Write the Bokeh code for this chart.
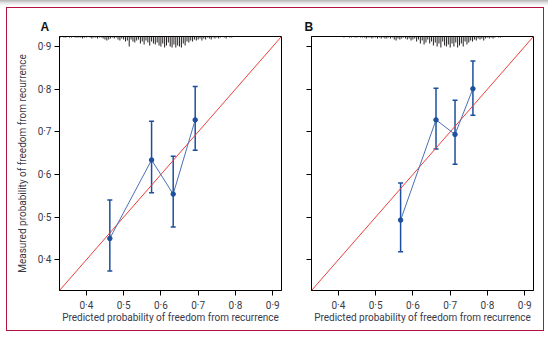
from bokeh.plotting import figure
from bokeh.models import Range1d, FixedTicker, Whisker, ColumnDataSource, TeeHead, Row, Column
from bokeh.embed import file_html
from bokeh.resources import INLINE

# ---------------- data ----------------
tick_values = [0.4, 0.5, 0.6, 0.7, 0.8, 0.9]
tick_labels = ["0·4", "0·5", "0·6", "0·7", "0·8", "0·9"]

a_pred = [0.463, 0.575, 0.633, 0.692]
a_obs = [0.450, 0.634, 0.554, 0.728]
a_lower = [0.374, 0.557, 0.477, 0.657]
a_upper = [0.540, 0.725, 0.643, 0.806]

b_pred = [0.567, 0.662, 0.713, 0.761]
b_obs = [0.493, 0.728, 0.694, 0.801]
b_lower = [0.419, 0.660, 0.624, 0.739]
b_upper = [0.580, 0.802, 0.774, 0.866]

rug_bin = 0.005
a_rug_start = 0.330
a_rug_counts = [1, 0, 1, 1, 0, 1, 1, 0, 1, 1,
                1, 1, 2, 1, 1, 0, 1, 2, 1, 1, 2, 1, 1, 2,
                3, 4, 3, 2, 1, 2, 1, 3, 4, 2,
                3, 5, 4, 10, 3, 5, 6, 4, 3, 7,
                5, 8, 4, 6, 9, 5, 7, 8, 6, 9,
                10, 7, 11, 9, 6, 10, 11, 8, 11, 9,
                10, 11, 7, 9, 5, 6, 4, 5, 3, 4,
                3, 2, 4, 2, 3, 1, 2, 3, 1, 2,
                1, 2, 1, 0, 1, 2, 0, 1, 1]
b_rug_start = 0.415
b_rug_counts = [1, 0, 0, 1, 1, 0, 1, 1, 0,
                1, 1, 1, 2, 1, 1, 2, 1, 1, 2,
                1, 2, 1, 2, 2, 1, 2, 1, 3, 4,
                2, 3, 2, 1, 2, 3, 2, 4, 3, 2,
                5, 3, 7, 4, 8, 6, 3, 7, 5, 9,
                6, 10, 7, 11, 5, 9, 10, 8, 11, 7,
                10, 6, 11, 9, 7, 10, 5, 8, 6, 4,
                5, 3, 4, 2, 3, 2, 4, 2, 1, 2,
                1, 2, 1, 0, 1, 1]

x_label = "Predicted probability of freedom from recurrence"
y_label = "Measured probability of freedom from recurrence"

# ---------------- style ----------------
FONT = "Roboto"
TXT = "#3a3a48"
BLUE = "#1d4f9c"
LINE_BLUE = "#4a70b4"
RED = "#e8403c"
RANGE = (0.328, 0.9235)


def make_panel(letter, pred, obs, lo, hi, rug_start, rug_counts, show_ylab, width, bl, br, title_off):
    p = figure(width=width, height=322, output_backend="svg", toolbar_location=None,
               x_range=Range1d(*RANGE), y_range=Range1d(*RANGE),
               min_border_left=bl, min_border_right=br, min_border_top=28, min_border_bottom=40)
    p.frame_width = 222
    p.frame_height = 254
    p.xgrid.visible = False
    p.ygrid.visible = False
    p.outline_line_color = "black"
    p.outline_line_width = 1
    p.background_fill_color = "white"
    p.border_fill_color = "white"
    labels = dict(zip(tick_values, tick_labels))
    for ax in (p.xaxis[0], p.yaxis[0]):
        ax.ticker = FixedTicker(ticks=tick_values)
        ax.major_label_overrides = labels
        ax.major_tick_in = 0
        ax.major_tick_out = 5
        ax.minor_tick_line_color = None
        ax.axis_line_color = "black"
        ax.major_tick_line_color = "black"
        ax.major_label_text_font = FONT
        ax.major_label_text_font_size = "10px"
        ax.major_label_text_color = TXT
        ax.axis_label_text_font = FONT
        ax.axis_label_text_font_size = "10px"
        ax.axis_label_text_font_style = "normal"
        ax.axis_label_text_color = TXT
    p.xaxis.axis_label = x_label
    p.xaxis.major_label_standoff = 4
    p.xaxis.axis_label_standoff = -2
    if show_ylab:
        p.yaxis.axis_label = y_label
        p.yaxis.major_label_standoff = 3
        p.yaxis.axis_label_standoff = 7
    else:
        p.yaxis.major_label_text_font_size = "0px"
        p.yaxis.major_label_text_alpha = 0

    # panel letter as the figure title
    p.title.text = letter
    p.title.align = "left"
    p.title.offset = title_off
    p.title.text_font = "Liberation Sans"
    p.title.text_font_style = "bold"
    p.title.text_font_size = "12px"
    p.title.text_color = "#111111"
    p.title.standoff = 5

    # diagonal
    p.line([0.0, 1.0], [0.0, 1.0], line_color=RED, line_width=1)

    # spike histogram of predictions, hanging from the top edge
    px_per_unit = 254 / (RANGE[1] - RANGE[0])
    xs = [rug_start + i * rug_bin for i in range(len(rug_counts))]
    top = RANGE[1]
    bottoms = [top - c / px_per_unit for c in rug_counts]
    p.segment(x0=xs, y0=[top] * len(xs), x1=xs, y1=bottoms, line_color="#231f20", line_width=1)

    # calibration line and error bars
    src = ColumnDataSource(dict(x=pred, y=obs, lo=lo, hi=hi))
    p.line("x", "y", source=src, line_color=LINE_BLUE, line_width=1)
    w = Whisker(base="x", lower="lo", upper="hi", source=src, line_color=BLUE, line_width=1.5,
                upper_head=TeeHead(size=5, line_color=BLUE, line_width=1.5),
                lower_head=TeeHead(size=5, line_color=BLUE, line_width=1.5))
    p.add_layout(w)
    p.scatter("x", "y", source=src, size=4.5, color=BLUE)
    return p


pA = make_panel("A", a_pred, a_obs, a_lower, a_upper, a_rug_start, a_rug_counts, True, 285, 52, 11, -19)
pB = make_panel("B", b_pred, b_obs, b_lower, b_upper, b_rug_start, b_rug_counts, False, 251, 19, 10, -7)

inner = Row(children=[pA, pB], margin=(7, 0, 0, 6),
            styles={"border": "1px solid #b5123e"})
outer = Column(children=[inner], width=548, height=338,
               styles={"background": "linear-gradient(to bottom, #b4b4b4 0px, #e6e6e6 3px, #ffffff 6px)"})

open("out.html", "w").write(file_html(outer, INLINE))
